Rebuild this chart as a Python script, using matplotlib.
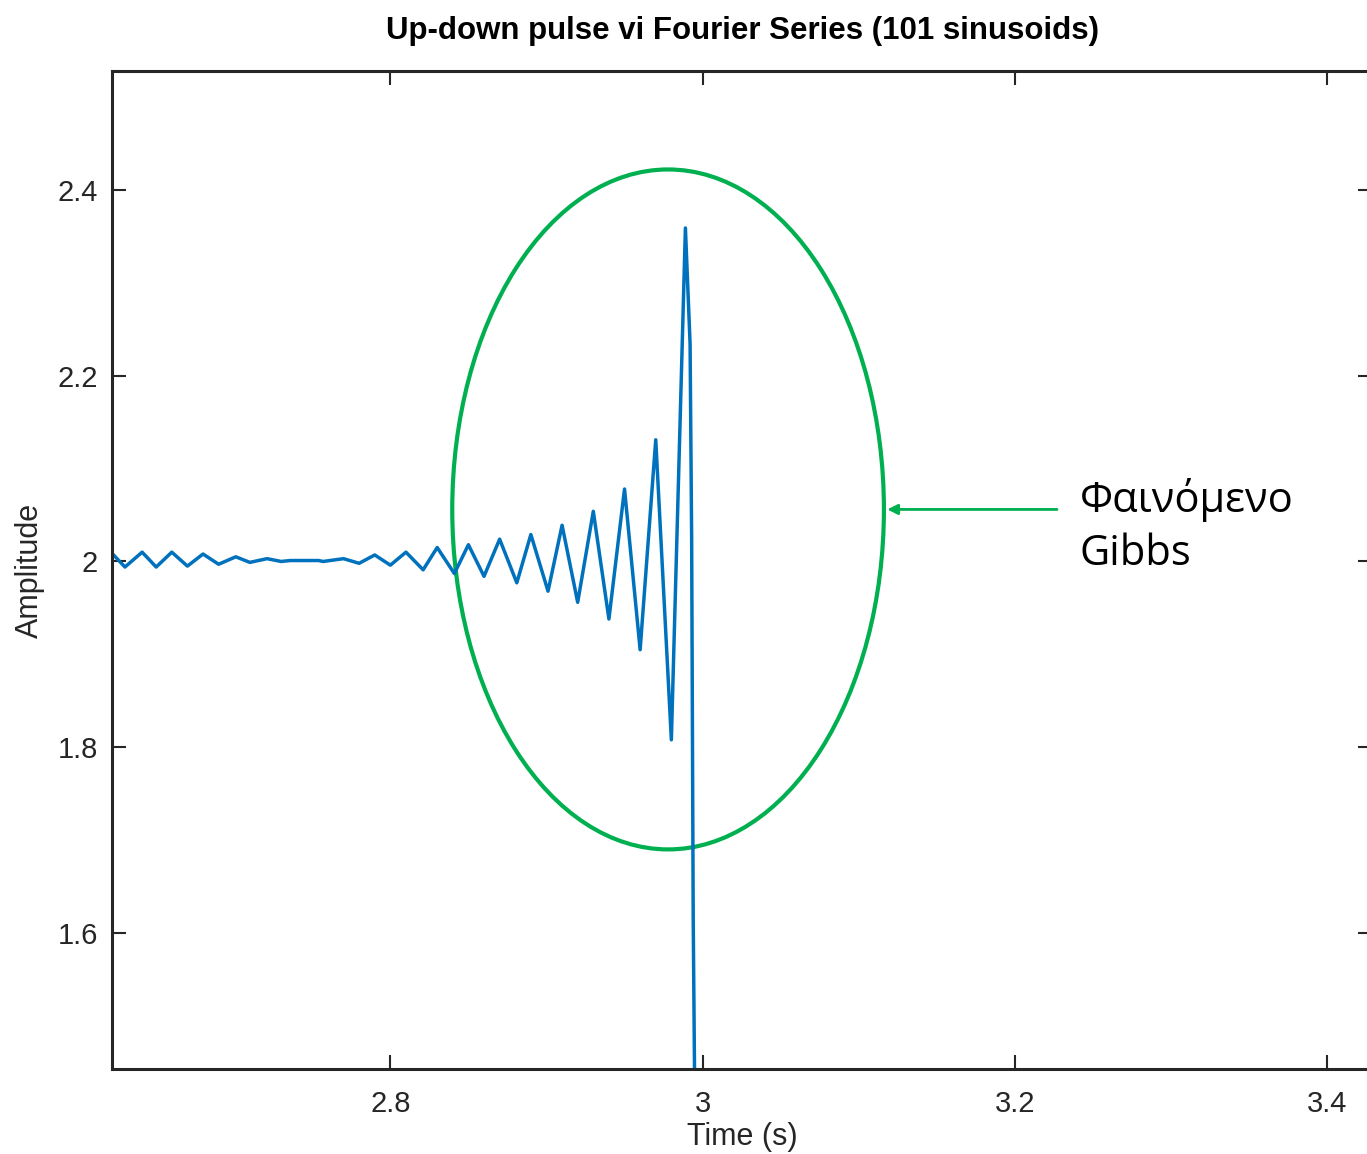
import numpy as np
import matplotlib.pyplot as plt
from matplotlib.patches import Ellipse

# extrema of the signal
t = [2.621, 2.630, 2.641, 2.650, 2.660, 2.670, 2.680, 2.690, 2.701, 2.710,
     2.721, 2.730, 2.736, 2.754, 2.757, 2.770, 2.780, 2.790, 2.800, 2.810,
     2.821, 2.830, 2.841, 2.850, 2.860, 2.870, 2.881, 2.890, 2.901, 2.910,
     2.920, 2.930, 2.940, 2.950, 2.960, 2.970, 2.980, 2.989, 2.992, 2.993,
     2.994, 2.995]
amp = [2.010, 1.994, 2.010, 1.994, 2.010, 1.995, 2.008, 1.997, 2.005, 1.999,
       2.003, 2.000, 2.001, 2.001, 2.000, 2.003, 1.998, 2.007, 1.996, 2.010,
       1.991, 2.015, 1.987, 2.018, 1.984, 2.024, 1.977, 2.029, 1.968, 2.039,
       1.956, 2.054, 1.938, 2.078, 1.905, 2.131, 1.808, 2.359, 2.234, 2.024,
       1.615, 1.420]

title = "Up-down pulse vi Fourier Series (101 sinusoids)"
note = "Φαινόμενο\nGibbs"

plt.rcParams['font.family'] = ['Liberation Sans', 'DejaVu Sans']

fig = plt.figure(figsize=(13.67, 11.54), dpi=100)
ax = fig.add_axes([112/1367, 1 - 1069/1154, (1372 - 112)/1367, (1069 - 71)/1154])

ax.plot(t, amp, color='#0072BD', lw=2.5)

ax.set_xlim(2.6217, 3.4288)
ax.set_ylim(1.4536, 2.528)
ax.set_xticks([2.8, 3.0, 3.2, 3.4])
ax.set_xticklabels(["2.8", "3", "3.2", "3.4"])
ax.set_yticks([1.6, 1.8, 2.0, 2.2, 2.4])
ax.set_yticklabels(["1.6", "1.8", "2", "2.2", "2.4"])
ax.tick_params(direction='in', length=10, width=1.5, top=True, right=True,
               labelsize=21, colors='#262626')
ax.tick_params(axis='x', pad=15)
ax.tick_params(axis='y', pad=10)
for s in ax.spines.values():
    s.set_linewidth(2.2)
    s.set_color('#262626')

ax.set_xlabel("Time (s)", fontsize=22, color='#262626', labelpad=3)
ax.set_ylabel("Amplitude", fontsize=22, color='#262626', labelpad=9)
ax.set_title(title, fontsize=22.5, fontweight='bold', pad=23)

# green ellipse around the Gibbs overshoot
ell = Ellipse((2.9779, 2.056), 0.2765, 0.732, fill=False, edgecolor='#00B050',
              lw=3, clip_on=False)
ax.add_patch(ell)
ax.annotate("", xy=(3.1165, 2.056), xytext=(3.2288, 2.056),
            arrowprops=dict(arrowstyle='-|>', color='#00B050', lw=2,
                            mutation_scale=15), annotation_clip=False)
ax.text(3.2416, 2.038, note, fontsize=30, family=['Open Sans', 'DejaVu Sans'],
        va='center', ha='left', linespacing=1.35)

fig.savefig("out.png", dpi=100)
